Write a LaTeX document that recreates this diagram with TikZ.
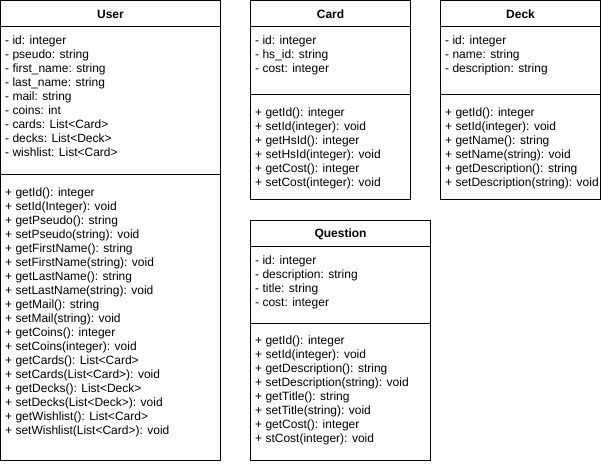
\documentclass[tikz,border=0pt]{standalone}
\usepackage{fontspec}
\setmainfont{Liberation Sans}
\begin{document}
\begin{tikzpicture}[x=1pt,y=-1pt,
  every node/.style={font=\fontsize{12}{14}\selectfont},
  classbox/.style={draw,line width=1pt},
  classname/.style={font=\fontsize{12}{14}\selectfont\bfseries},
  members/.style={anchor=north west,inner sep=0pt,align=left}]
  \useasboundingbox (0,0) rectangle (601,464);
  % User
  \draw[classbox] (0.5,0.5) rectangle (220.5,460.5);
  \draw[classbox] (0.5,26.5) -- (220.5,26.5);
  \draw[classbox] (0.5,174.5) -- (220.5,174.5);
  \node[classname] (user) at (110.5,14) {User};
  \node[members] (userattr) at (5,35.5) {- id: integer\\- pseudo: string\\- first\_name: string\\- last\_name: string\\- mail: string\\- coins: int\\- cards: List<Card>\\- decks: List<Deck>\\- wishlist: List<Card>};
  \node[members] (usermeth) at (5,187.5) {+ getId(): integer\\+ setId(Integer): void\\+ getPseudo(): string\\+ setPseudo(string): void\\+ getFirstName(): string\\+ setFirstName(string): void\\+ getLastName(): string\\+ setLastName(string): void\\+ getMail(): string\\+ setMail(string): void\\+ getCoins(): integer\\+ setCoins(integer): void\\+ getCards(): List<Card>\\+ setCards(List<Card>): void\\+ getDecks(): List<Deck>\\+ setDecks(List<Deck>): void\\+ getWishlist(): List<Card>\\+ setWishlist(List<Card>): void};
  % Card
  \draw[classbox] (250.5,0.5) rectangle (410.5,199.5);
  \draw[classbox] (250.5,26.5) -- (410.5,26.5);
  \draw[classbox] (250.5,94.5) -- (410.5,94.5);
  \node[classname] (card) at (330.5,14) {Card};
  \node[members] (cardattr) at (255,35.5) {- id: integer\\- hs\_id: string\\- cost: integer};
  \node[members] (cardmeth) at (255,107.5) {+ getId(): integer\\+ setId(integer): void\\+ getHsId(): integer\\+ setHsId(integer): void\\+ getCost(): integer\\+ setCost(integer): void};
  % Deck
  \draw[classbox] (440.5,0.5) rectangle (600.5,199.5);
  \draw[classbox] (440.5,26.5) -- (600.5,26.5);
  \draw[classbox] (440.5,94.5) -- (600.5,94.5);
  \node[classname] (deck) at (520.5,14) {Deck};
  \node[members] (deckattr) at (445,35.5) {- id: integer\\- name: string\\- description: string};
  \node[members] (deckmeth) at (445,107.5) {+ getId(): integer\\+ setId(integer): void\\+ getName(): string\\+ setName(string): void\\+ getDescription(): string\\+ setDescription(string): void};
  % Question
  \draw[classbox] (250.5,220.5) rectangle (430.5,460.5);
  \draw[classbox] (250.5,246.5) -- (430.5,246.5);
  \draw[classbox] (250.5,323.5) -- (430.5,323.5);
  \node[classname] (question) at (340.5,234) {Question};
  \node[members] (questattr) at (255,255.5) {- id: integer\\- description: string\\- title: string\\- cost: integer};
  \node[members] (questmeth) at (255,335.5) {+ getId(): integer\\+ setId(integer): void\\+ getDescription(): string\\+ setDescription(string): void\\+ getTitle(): string\\+ setTitle(string): void\\+ getCost(): integer\\+ stCost(integer): void};
\end{tikzpicture}
\end{document}
